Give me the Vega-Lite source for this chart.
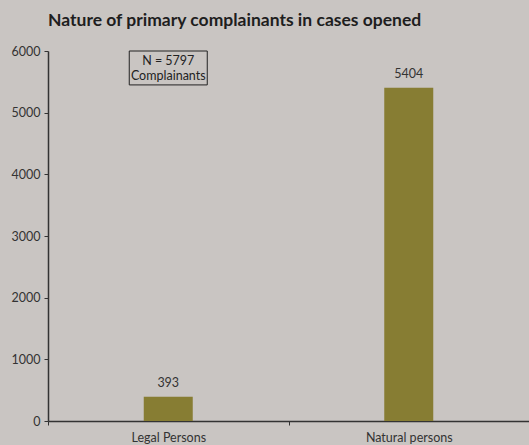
{
  "$schema": "https://vega.github.io/schema/vega-lite/v6.json",
  "autosize": {"type": "none"},
  "width": 481,
  "height": 370,
  "padding": {"left": 48, "top": 51, "right": 0, "bottom": 24},
  "background": "#c9c5c2",
  "config": {
    "view": {"stroke": null},
    "font": "Lato",
    "axis": {"labelFont": "Lato", "labelFontSize": 12.5, "labelColor": "#333333", "domainColor": "#333333", "tickColor": "#333333", "grid": false, "title": null}
  },
  "title": {
    "text": "Nature of primary complainants in cases opened",
    "anchor": "start",
    "frame": "group",
    "fontSize": 17.5,
    "fontWeight": "bold",
    "color": "#1e1e1e",
    "font": "Lato",
    "offset": 16
  },
  "data": {
    "values": [
      {"category": "Legal Persons", "value": 393},
      {"category": "Natural persons", "value": 5404}
    ]
  },
  "layer": [
    {
      "mark": {"type": "bar", "color": "#877d33", "size": 49},
      "encoding": {
        "x": {"field": "category", "type": "nominal", "sort": null,
          "scale": {"paddingInner": 0, "paddingOuter": 0},
          "axis": {"labelAngle": 0, "tickBand": "extent", "tickSize": 4, "labelPadding": 6, "domainWidth": 1.5}},
        "y": {"field": "value", "type": "quantitative",
          "scale": {"domain": [0, 6000]},
          "axis": {"values": [0, 1000, 2000, 3000, 4000, 5000, 6000], "format": "d", "tickSize": 4, "labelPadding": 4, "domainWidth": 1.5}}
      }
    },
    {
      "mark": {"type": "text", "baseline": "bottom", "dy": -7, "fontSize": 12.5, "color": "#333333"},
      "encoding": {
        "x": {"field": "category", "type": "nominal", "sort": null},
        "y": {"field": "value", "type": "quantitative"},
        "text": {"field": "value", "type": "quantitative", "format": "d"}
      }
    },
    {
      "data": {"values": [{"category": "Legal Persons", "top": 6000, "bottom": 5450}]},
      "mark": {"type": "rect", "width": 78, "fill": null, "fillOpacity": 0, "stroke": "#222222", "strokeWidth": 1},
      "encoding": {
        "x": {"field": "category", "type": "nominal"},
        "y": {"field": "top", "type": "quantitative"},
        "y2": {"field": "bottom"}
      }
    },
    {
      "data": {"values": [
        {"category": "Legal Persons", "pos": 5840, "label": "N = 5797"},
        {"category": "Legal Persons", "pos": 5595, "label": "Complainants"}
      ]},
      "mark": {"type": "text", "fontSize": 12.5, "color": "#222222", "baseline": "middle"},
      "encoding": {
        "x": {"field": "category", "type": "nominal"},
        "y": {"field": "pos", "type": "quantitative"},
        "text": {"field": "label"}
      }
    }
  ]
}
